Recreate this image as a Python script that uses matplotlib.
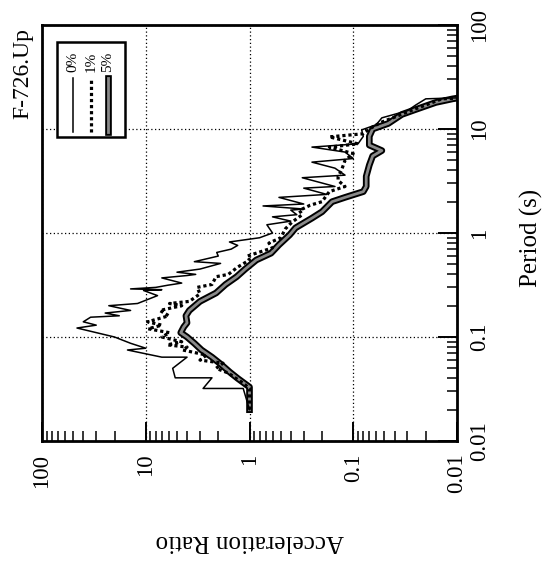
import matplotlib
matplotlib.use("Agg")
import matplotlib.pyplot as plt
import matplotlib.patheffects as pe
from matplotlib import font_manager
from matplotlib.patches import Rectangle
from matplotlib.lines import Line2D

# pick a Times-like face if one is around
names = {f.name for f in font_manager.fontManager.ttflist}
serif = next((n for n in ["Liberation Serif", "Times New Roman", "Tinos"] if n in names),
             "DejaVu Serif")
plt.rcParams["font.family"] = [serif, "DejaVu Serif"]

# values: period (s) -> acceleration ratio
period_0 = [0.02, 0.032, 0.032, 0.0405, 0.0405, 0.05, 0.064, 0.064, 0.075, 0.078,
            0.087, 0.1, 0.122, 0.13, 0.14, 0.155, 0.16, 0.17, 0.18, 0.2,
            0.21, 0.25, 0.28, 0.285, 0.29, 0.3, 0.315, 0.33, 0.37, 0.39,
            0.4, 0.42, 0.45, 0.51, 0.53, 0.6, 0.65, 0.7, 0.76, 0.82,
            0.9, 1.0, 1.2, 1.3, 1.43, 1.5, 1.66, 1.7, 1.82, 1.9,
            2.2, 2.35, 2.7, 2.8, 3.4, 3.6, 4.2, 4.8, 5.2, 6.0,
            6.7, 7.2, 8.5, 9.8, 11, 12.8, 15, 17, 19.5, 20]
ratio_0 = [1.0, 1.15, 2.8, 2.3, 5.2, 5.5, 4.0, 7.0, 15, 10,
           14, 20, 46, 30, 40, 34, 18, 24.6, 14, 22.7,
           12, 7.7, 10.5, 7, 14, 8, 6.1, 4.5, 7, 4.0,
           3.3, 5, 3, 1.9, 3.4, 2.0, 2.07, 1.5, 1.3, 1.56,
           0.8, 0.6, 0.68, 0.4, 0.6, 0.35, 0.4, 0.3, 0.74, 0.3,
           0.52, 0.18, 0.3, 0.15, 0.31, 0.12, 0.15, 0.25, 0.1, 0.12,
           0.25, 0.09, 0.08, 0.083, 0.06, 0.053, 0.03, 0.025, 0.02, 0.009]

period_1 = [0.02, 0.032, 0.036, 0.039, 0.045, 0.05, 0.056, 0.06, 0.067, 0.075, 0.08, 0.084,
            0.09, 0.1, 0.11, 0.12, 0.13, 0.14, 0.16, 0.18, 0.2, 0.21, 0.22, 0.26, 0.3,
            0.32, 0.38, 0.4, 0.47, 0.55, 0.6, 0.72, 0.8, 0.9, 1.1, 1.27, 1.5, 1.65, 1.85,
            2.0, 2.5, 2.8, 3.2, 3.5, 4.0, 5.0, 5.8, 6.7, 7.2, 8.4, 9, 10, 11.5, 13, 15,
            17, 19.5, 20]
ratio_1 = [1.0, 1.0, 1.15, 1.3, 1.6, 2.1, 1.8, 3.0, 2.6, 4.4, 4.0, 6.2,
           4.5, 7, 5.9, 9.5, 7, 9.6, 6, 7.3, 4.5, 5.9, 3.8, 3.0, 3.2,
           2.3, 2.1, 1.6, 1.3, 1.0, 1.05, 0.6, 0.65, 0.5, 0.45, 0.39, 0.31, 0.33, 0.26,
           0.2, 0.17, 0.12, 0.14, 0.14, 0.13, 0.12, 0.1, 0.17, 0.09, 0.17, 0.08, 0.07, 0.055, 0.04, 0.028,
           0.02, 0.014, 0.008]

period_5 = [0.02, 0.033, 0.04, 0.046, 0.055, 0.064, 0.075, 0.087, 0.1, 0.11, 0.125, 0.137,
            0.16, 0.18, 0.22, 0.265, 0.32, 0.38, 0.45, 0.55, 0.64, 0.77, 0.96, 1.12, 1.39,
            1.6, 2.0, 2.2, 2.5, 2.8, 3.5, 4.5, 5.5, 6.2, 7.0, 8.5, 10, 11.3, 13.8, 15.4,
            18, 19.5, 20.5]
ratio_5 = [1.0, 1.0, 1.3, 1.55, 1.9, 2.3, 2.9, 3.4, 4.0, 4.6, 4.3, 4.0,
           4.1, 3.8, 3.0, 2.1, 1.7, 1.33, 1.1, 0.86, 0.62, 0.52, 0.41, 0.36, 0.25,
           0.2, 0.16, 0.12, 0.08, 0.075, 0.075, 0.07, 0.065, 0.053, 0.07, 0.07, 0.065, 0.046, 0.034, 0.025,
           0.016, 0.011, 0.008]

decades = [100, 10, 1, 0.1, 0.01]
decade_labels = ["100", "10", "1", "0.1", "0.01"]

fig = plt.figure(figsize=(5.47, 5.63), dpi=100)
ax = fig.add_axes([42 / 547, 1 - 441 / 563, 415 / 547, 416 / 563])

# the scanned page is turned a quarter: period runs up the right side,
# acceleration ratio runs right-to-left along the bottom
ax.plot(ratio_5, period_5, color="#8a8a8a", lw=2.0,
        path_effects=[pe.Stroke(linewidth=4.8, foreground="black"), pe.Normal()])
ax.plot(ratio_1, period_1, color="black", lw=2.3, ls=(0, (1, 0.9)))
ax.plot(ratio_0, period_0, color="black", lw=1.1)

ax.set_xscale("log")
ax.set_yscale("log")
ax.set_xlim(100, 0.01)
ax.set_ylim(0.01, 100)

ax.set_xticks(decades)
ax.set_xticklabels(decade_labels, rotation=90, fontsize=16.5)
ax.set_yticks(decades)
ax.yaxis.tick_right()
ax.set_yticklabels(decade_labels, rotation=90, va="center", fontsize=16.5)

ax.tick_params(axis="x", which="both", direction="in", bottom=True, top=False)
ax.tick_params(axis="y", which="both", direction="in", left=False, right=True)
ax.tick_params(which="major", length=14, width=1.4, pad=9)
ax.tick_params(which="minor", length=7, width=1.1)
ax.grid(True, which="major", ls=(0, (1, 2)), color="black", lw=0.9)
for s in ax.spines.values():
    s.set_linewidth(2)

# legend box, drawn by hand because the entries are turned too
ax.add_patch(Rectangle((0.036, 0.731), 0.164, 0.228, transform=ax.transAxes,
                       facecolor="white", edgecolor="black", lw=1.8, zorder=5))
leg_x = [0.0747, 0.118, 0.159]
leg_text = ["0%", "1%", "5%"]
ax.add_line(Line2D([leg_x[0]] * 2, [0.743, 0.873], transform=ax.transAxes,
                   color="black", lw=1.1, zorder=6))
ax.add_line(Line2D([leg_x[1]] * 2, [0.743, 0.873], transform=ax.transAxes,
                   color="black", lw=2.3, ls=(0, (1, 0.9)), zorder=6))
ax.add_line(Line2D([leg_x[2]] * 2, [0.743, 0.873], transform=ax.transAxes,
                   color="#8a8a8a", lw=2.0, zorder=6,
                   path_effects=[pe.Stroke(linewidth=4.8, foreground="black"), pe.Normal()]))
for lx, t in zip(leg_x, leg_text):
    ax.text(lx, 0.887, t, transform=ax.transAxes, rotation=90, ha="center",
            va="bottom", fontsize=11, zorder=6)

fig.text(23 / 547, 1 - 28 / 563, "F-726.Up", rotation=90, ha="center", va="top", fontsize=17)
fig.text(531 / 547, 1 - 238 / 563, "Period (s)", rotation=90, ha="center", va="center", fontsize=18)
fig.text(250 / 547, 1 - 541 / 563, "Acceleration Ratio", rotation=180, ha="center",
         va="center", fontsize=18)

fig.savefig("out.png", dpi=100)
